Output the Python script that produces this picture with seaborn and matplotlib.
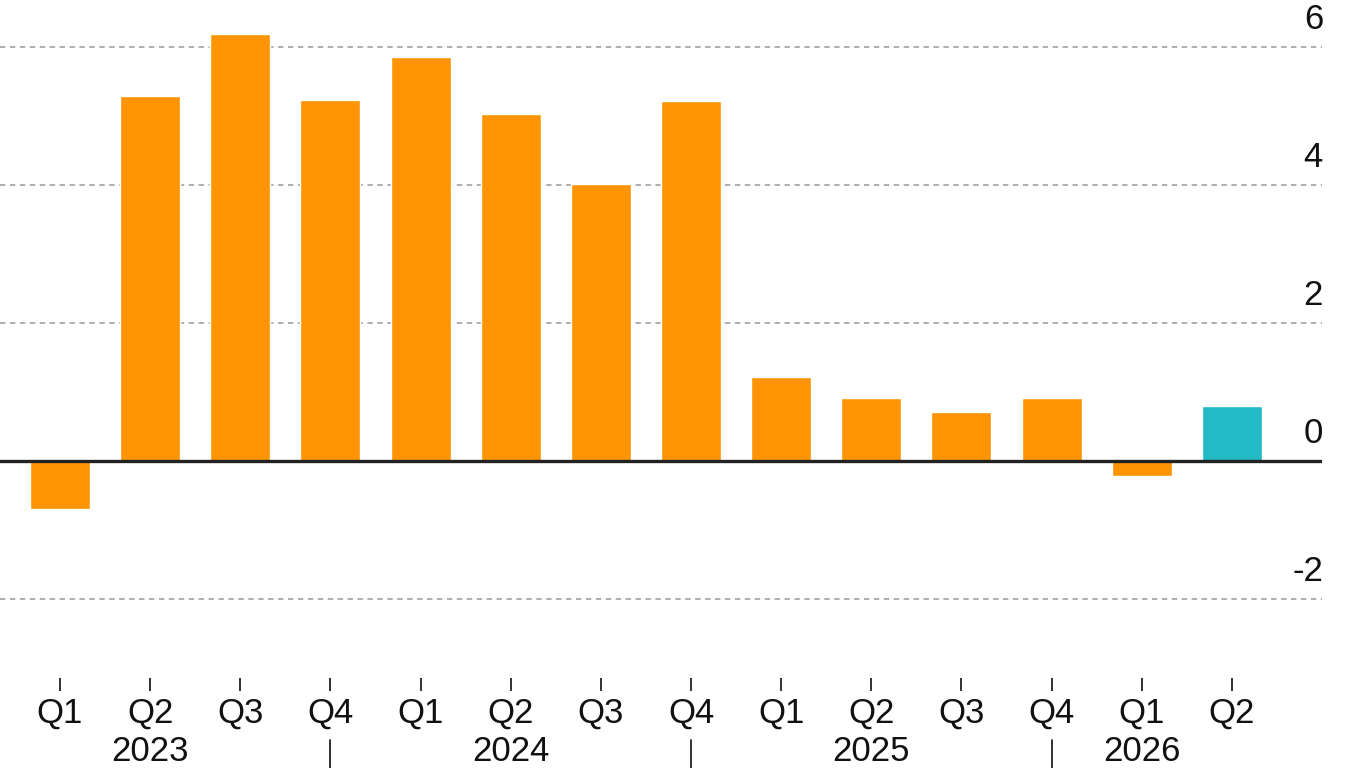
import matplotlib
matplotlib.use("Agg")
import matplotlib.pyplot as plt
import matplotlib.transforms as mtransforms
import seaborn as sns
import pandas as pd
import numpy as np

# ---- data ----
years = ["2023", "2023", "2023", "2023",
         "2024", "2024", "2024", "2024",
         "2025", "2025", "2025", "2025",
         "2026", "2026"]
quarters = ["Q1", "Q2", "Q3", "Q4",
            "Q1", "Q2", "Q3", "Q4",
            "Q1", "Q2", "Q3", "Q4",
            "Q1", "Q2"]
values = [-0.70, 5.29, 6.19, 5.23,
          5.86, 5.03, 4.01, 5.22,
          1.22, 0.91, 0.71, 0.91,
          -0.22, 0.80]
kinds = ["actual"] * 13 + ["forecast"]
y_ticks = [-2, 0, 2, 4, 6]
grid_values = [-2, 2, 4, 6]

ORANGE = "#FF9505"
TEAL = "#22BAC4"

sns.set_theme(style="white")
plt.rcParams["font.family"] = ["Liberation Sans", "DejaVu Sans"]

df = pd.DataFrame({
    "period": [f"{y} {q}" for y, q in zip(years, quarters)],
    "value": values,
    "kind": kinds,
})

fig = plt.figure(figsize=(13.66, 7.68), dpi=100)
ax = fig.add_axes([0.0, 1 - 678 / 768, 1322 / 1366, 678 / 768])

sns.barplot(data=df, x="period", y="value", hue="kind",
            palette={"actual": ORANGE, "forecast": TEAL},
            width=0.665, saturation=1, legend=False, ax=ax, zorder=3,
            order=df["period"].tolist())

ax.set_xlim(-0.666, 14.0)
ax.set_ylim(-3.145, 6.681)

for g in grid_values:
    ax.axhline(g, color="#a8a8a8", lw=1.3, ls=(0, (3, 2.5)), zorder=1)
ax.axhline(0, color="#222222", lw=2.4, zorder=4)

for s in ax.spines.values():
    s.set_visible(False)

# y labels on the right, above the grid lines
ax.set_yticks([])
ax.set_ylabel("")
ax.set_xlabel("")
trans_y = mtransforms.offset_copy(
    mtransforms.blended_transform_factory(ax.transAxes, ax.transData),
    fig=fig, x=1, y=18, units="dots")
for t in y_ticks:
    ax.text(1.0, t, f"{t}", transform=trans_y, ha="right", va="baseline",
            fontsize=25, color="#111111")

# x ticks (quarters)
ax.set_xticks(range(len(quarters)))
ax.set_xticklabels(quarters, fontsize=25, color="#111111")
ax.tick_params(axis="x", bottom=True, direction="out", length=9.5,
               width=1.3, color="#222222", pad=4)

# year labels and separators
blend = mtransforms.blended_transform_factory(ax.transData, fig.transFigure)
uyears = list(dict.fromkeys(years))
for k, yr in enumerate(uyears):
    idxs = [i for i, y in enumerate(years) if y == yr]
    n = len(idxs)
    xc = idxs[0] + (n - 2) / 2
    ax.text(xc, 1 - 761 / 768, yr, transform=blend, ha="center",
            va="baseline", fontsize=25, color="#111111")
    if k < len(uyears) - 1:
        xs = idxs[-1]
        ax.plot([xs, xs], [1 - 740 / 768, 0.0], transform=blend,
                color="#222222", lw=1.3, clip_on=False)

fig.savefig("out.png", dpi=100)
